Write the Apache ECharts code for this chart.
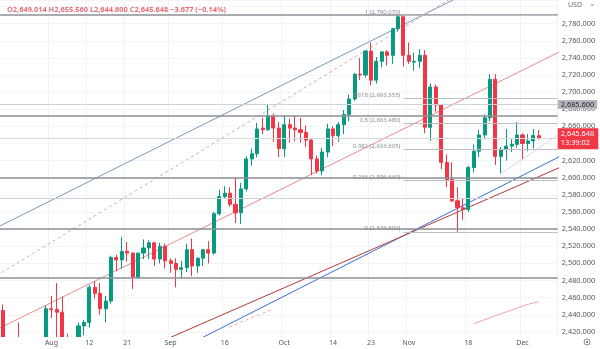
<!DOCTYPE html>
<html>
<head>
<meta charset="utf-8">
<script src="https://cdn.jsdelivr.net/npm/echarts@6/dist/echarts.min.js"></script>
<style>
  html, body { margin: 0; padding: 0; background: #ffffff; }
  #chart { width: 600px; height: 349px; }
</style>
</head>
<body>
<div id="chart"></div>
<script>
// Daily GOLD candles, 19 Jul - 5 Dec 2024
const dates = [
  '2024-07-19','2024-07-22','2024-07-23','2024-07-24','2024-07-25','2024-07-26','2024-07-29','2024-07-30','2024-07-31',
  '2024-08-01','2024-08-02','2024-08-05','2024-08-06','2024-08-07','2024-08-08','2024-08-09','2024-08-12','2024-08-13',
  '2024-08-14','2024-08-15','2024-08-16','2024-08-19','2024-08-20','2024-08-21','2024-08-22','2024-08-23','2024-08-26',
  '2024-08-27','2024-08-28','2024-08-29','2024-08-30','2024-09-02','2024-09-03','2024-09-04','2024-09-05','2024-09-06',
  '2024-09-09','2024-09-10','2024-09-11','2024-09-12','2024-09-13','2024-09-16','2024-09-17','2024-09-18','2024-09-19',
  '2024-09-20','2024-09-23','2024-09-24','2024-09-25','2024-09-26','2024-09-27','2024-09-30','2024-10-01','2024-10-02',
  '2024-10-03','2024-10-04','2024-10-07','2024-10-08','2024-10-09','2024-10-10','2024-10-11','2024-10-14','2024-10-15',
  '2024-10-16','2024-10-17','2024-10-18','2024-10-21','2024-10-22','2024-10-23','2024-10-24','2024-10-25','2024-10-28',
  '2024-10-29','2024-10-30','2024-10-31','2024-11-01','2024-11-04','2024-11-05','2024-11-06','2024-11-07','2024-11-08',
  '2024-11-11','2024-11-12','2024-11-13','2024-11-14','2024-11-15','2024-11-18','2024-11-19','2024-11-20','2024-11-21',
  '2024-11-22','2024-11-25','2024-11-26','2024-11-27','2024-11-28','2024-11-29','2024-12-02','2024-12-03','2024-12-04',
  '2024-12-05'
];
// empty sessions to the right of the last bar
const futureDates = ['2024-12-06','2024-12-09','2024-12-10'];

const opens = [
  2445,2401,2396,2409,2398,2365,2387,2384,2411,
  2447,2446,2443,2409,2390,2382,2427,2431,2472,
  2465,2447,2456,2507,2504,2514,2512,2484,2512,
  2518,2524,2505,2520,2503,2500,2493,2495,2516,
  2497,2506,2516,2512,2558,2578,2582,2569,2559,
  2587,2622,2628,2658,2656,2672,2658,2634,2662,
  2658,2656,2653,2644,2622,2608,2630,2657,2649,
  2662,2674,2692,2721,2720,2748,2714,2736,2747,
  2743,2774,2788,2743,2735,2736,2743,2659,2706,
  2685,2618,2598,2573,2565,2563,2612,2631,2650,
  2670,2715,2625,2633,2637,2639,2650,2640,2643,
  2649.014
];
const highs = [
  2452,2412,2412,2431,2399,2390,2397,2413,2451,
  2462,2477,2461,2418,2406,2431,2434,2475,2479,
  2477,2462,2509,2510,2531,2525,2513,2512,2528,
  2527,2525,2524,2523,2506,2506,2503,2523,2529,
  2507,2517,2526,2560,2586,2590,2589,2600,2594,
  2625,2634,2664,2670,2685.6,2675,2665,2673,2669,
  2672,2670,2661,2645,2626,2635,2663,2660,2665,
  2679,2697,2722,2740,2749,2758,2741,2748,2749,
  2775,2790,2790.07,2758,2746,2750,2749,2710,2709,
  2686,2627,2618,2589,2576,2614,2639,2656,2674,
  2721,2721,2636,2657,2645,2665,2652,2651,2657,
  2655.56
];
const lows = [
  2393,2385,2390,2401,2353,2364,2375,2376,2405,
  2436,2410,2364,2381,2380,2377,2416,2425,2459,
  2440,2431,2453,2491,2494,2502,2470,2482,2505,
  2505,2497,2500,2494,2489,2472,2483,2490,2485,
  2489,2497,2500,2510,2556,2576,2566,2547,2546,
  2584,2614,2624,2651,2655,2642,2624,2624,2641,
  2643,2641,2636,2603,2605,2603,2624,2637,2642,
  2651,2666,2690,2714,2717,2708,2710,2729,2731,
  2733,2771,2730,2733,2725,2728,2652,2643,2677,
  2610,2589,2572,2536.89,2551,2560,2606,2624,2645,
  2666,2615,2605,2620,2630,2635,2622,2631,2634,
  2644.6
];
const closes = [
  2400,2396,2409,2398,2364,2387,2384,2410,2447,
  2446,2443,2409,2390,2382,2427,2431,2472,2465,
  2447,2456,2507,2504,2514,2512,2484,2512,2518,
  2524,2505,2520,2503,2500,2493,2495,2516,2497,
  2506,2516,2512,2558,2578,2582,2569,2559,2587,
  2622,2628,2657,2656,2672,2658,2634,2662,2658,
  2656,2653,2644,2622,2608,2630,2657,2649,2662,
  2674,2692,2721,2720,2748,2714,2736,2747,2743,
  2774,2788,2743,2736,2736,2743,2659,2706,2685,
  2618,2598,2573,2565,2563,2612,2631,2650,2670,
  2715,2625,2633,2637,2639,2650,2640,2643,2649.325,
  2645.648
];

// 200-day simple moving average (only the part inside the price range)
const sma200 = {
  87: 2429.6, 88: 2432.0, 89: 2434.2, 90: 2436.6, 91: 2438.9, 92: 2441.1, 93: 2443.4,
  94: 2445.5, 95: 2447.7, 96: 2450.0, 97: 2452.1, 98: 2453.8, 99: 2454.978
};

// time-scale labels
const tickDates = ['2024-08-01','2024-08-12','2024-08-21','2024-09-02','2024-09-16','2024-10-01',
                   '2024-10-14','2024-10-23','2024-11-01','2024-11-18','2024-12-02'];
const tickTexts = ['Aug','12','21','Sep','16','Oct','14','23','Nov','18','Dec'];

// Fibonacci retracement from the 31 Oct high to the 14 Nov low
const fibRatios = [1, 0.618, 0.5, 0.382, 0.236, 0];
const fibPrices = [2790.070, 2693.355, 2663.480, 2633.605, 2596.640, 2536.890];
const fibStartBar = 74;

// horizontal support / resistance levels
const strongLevels = [2790.07, 2672, 2600, 2540, 2483];
const lightLevels = [2685.6, 2576];
const lastPrice = 2645.648;
const countdown = '13:39:02';

// trend lines, as [bar index, price] anchor pairs
const upperBlue  = [[-4, 2532.7], [88, 2822.9]];
const upperRed   = [[-4, 2413.7], [103, 2747.5]];
const midDashed  = [[-4, 2474.5], [84, 2814.1]];
const lowerBlue  = [[34, 2404.1], [103, 2625.2]];
const lowerRed   = [[28, 2405.3], [103, 2612.3]];
const recentLows = [[92, 2605.0], [103, 2651.5]];
const lowDashed  = [[41.8, 2425.6], [49.9, 2446.6]];

const UP = '#089981', DOWN = '#f23645';
const FONT = '"Noto Sans", "Liberation Sans", sans-serif';
const fmt = (v, d) => v.toLocaleString('en-US', { minimumFractionDigits: d, maximumFractionDigits: d });

const allDates = dates.concat(futureDates);
const nBars = allDates.length;
const candles = dates.map((d, i) => [opens[i], closes[i], lows[i], highs[i]]);
const smaData = allDates.map((d, i) => (sma200[i] !== undefined ? sma200[i] : '-'));
const isTick = (idx, val) => tickDates.indexOf(val) >= 0;

const prevClose = closes[closes.length - 2];
const last = { o: opens[opens.length - 1], h: highs[highs.length - 1], l: lows[lows.length - 1], c: closes[closes.length - 1] };
const chg = last.c - prevClose;
const sign = (x) => (x < 0 ? '\u2212' : '+');

function trend(name, pts, color, width, type) {
  return {
    name, type: 'line', xAxisIndex: 2, yAxisIndex: 0, data: pts, symbol: 'none', silent: true,
    lineStyle: { color, width, type: type || 'solid' }, z: 3, animation: false
  };
}

const chart = echarts.init(document.getElementById('chart'), null, { renderer: 'canvas' });

const option = {
  animation: false,
  backgroundColor: '#ffffff',
  textStyle: { fontFamily: FONT },
  grid: { left: -1.6, right: 42.3, top: 0, bottom: 0, containLabel: false },
  title: {
    left: 2, top: 1,
    text: '{k|O}{v|' + fmt(last.o, 3) + '} {k|H}{v|' + fmt(last.h, 3) + '} {k|L}{v|' + fmt(last.l, 3) +
          '} {k|C}{v|' + fmt(last.c, 3) + '} {v|' + sign(chg) + fmt(Math.abs(chg), 3) +
          ' (' + sign(chg) + fmt(Math.abs(chg / prevClose * 100), 2) + '%)}',
    textStyle: {
      fontSize: 7.4, fontFamily: FONT,
      rich: { k: { color: '#c0868c', fontSize: 7.4, fontFamily: FONT }, v: { color: '#ec6b74', fontSize: 7.4, fontFamily: FONT } }
    }
  },
  xAxis: [
    { // candles + vertical grid
      type: 'category', data: allDates, boundaryGap: true, z: 0,
      axisLine: { show: false }, axisTick: { show: false }, axisLabel: { show: false },
      splitLine: { show: true, interval: isTick, lineStyle: { color: '#f1f2f5', width: 1 } }
    },
    { // time-scale labels drawn over the bottom strip
      type: 'category', data: allDates, boundaryGap: true, position: 'bottom', z: 60,
      axisLine: { show: false }, axisTick: { show: false }, splitLine: { show: false },
      axisLabel: {
        inside: true, margin: 2.5, interval: isTick, color: '#555862', fontSize: 7, fontFamily: FONT,
        formatter: (val) => tickTexts[tickDates.indexOf(val)]
      }
    },
    { // bar-index axis for drawings
      type: 'value', min: -0.5, max: nBars - 0.5, show: false
    }
  ],
  yAxis: {
    type: 'value', position: 'right', min: 2400, max: 2807.6, interval: 20, scale: true, z: 1,
    axisLine: { show: false }, axisTick: { show: false },
    axisLabel: { margin: 4, color: '#555862', fontSize: 7.4, fontFamily: FONT, showMinLabel: false, showMaxLabel: false,
                 formatter: (v) => (v > 2400 && v < 2800 ? fmt(v, 3) : '') },
    splitLine: { show: true, lineStyle: { color: '#f3f4f7', width: 1 } }
  },
  graphic: {
    elements: [
      { type: 'rect', z: 50, silent: true, shape: { x: 0, y: 337, width: 558, height: 12 }, style: { fill: '#ffffff' } },
      { type: 'text', z: 70, right: 18, top: 1, style: { text: 'USD', fill: '#6a6d78', fontSize: 7, fontFamily: FONT } },
      { type: 'text', z: 70, right: 4, top: 0, style: { text: '\u2304', fill: '#8a8d96', fontSize: 8, fontFamily: FONT } },
      { type: 'circle', z: 70, shape: { cx: 587, cy: 342, r: 3 }, style: { fill: 'none', stroke: '#6a6d78', lineWidth: 0.8 } },
      { type: 'circle', z: 70, shape: { cx: 587, cy: 342, r: 1 }, style: { fill: '#6a6d78' } }
    ]
  },
  series: [
    {
      name: 'GOLD', type: 'candlestick', xAxisIndex: 0, yAxisIndex: 0, data: candles, barWidth: '66%', z: 4,
      itemStyle: { color: UP, color0: DOWN, borderColor: UP, borderColor0: DOWN, borderWidth: 1 },
      markLine: {
        silent: true, symbol: ['none', 'none'], animation: false,
        label: { show: false },
        data: strongLevels.map(v => ({ yAxis: v, lineStyle: { color: '#8d8f96', width: 1.6, type: 'solid' } }))
          .concat(lightLevels.map((v, i) => ({
            yAxis: v, lineStyle: { color: '#cfd1d6', width: 1, type: 'solid' },
            label: i === 0 ? {
              show: true, position: 'end', distance: 0, formatter: fmt(v, 3), color: '#1f2128',
              backgroundColor: '#b4b6bd', padding: [1, 3, 1, 3], fontSize: 7.4, fontFamily: FONT
            } : { show: false }
          })))
          .concat([
            { yAxis: lastPrice, lineStyle: { color: '#d6d8dd', width: 1, type: 'solid' },
              label: { show: true, position: 'end', distance: 0, formatter: fmt(lastPrice, 3) + '\n' + countdown,
                       color: '#ffffff', backgroundColor: DOWN, padding: [2, 4, 1, 3], lineHeight: 9,
                       fontSize: 7.4, fontFamily: FONT } },
            { yAxis: lastPrice, lineStyle: { opacity: 0 },
              label: { show: true, position: 'end', distance: -19, formatter: 'GOLD',
                       color: '#ffffff', backgroundColor: DOWN, padding: [1, 2, 1, 2],
                       fontSize: 6, fontFamily: FONT } }
          ])
      }
    },
    {
      name: 'MA 200', type: 'line', xAxisIndex: 0, yAxisIndex: 0, data: smaData, symbol: 'none', silent: true, z: 3,
      lineStyle: { color: '#f4a3a6', width: 1 },
      markLine: {
        silent: true, symbol: ['none', 'none'],
        data: [{ yAxis: sma200[99], lineStyle: { opacity: 0 },
                 label: { show: true, position: 'end', distance: 0, formatter: fmt(sma200[99], 3),
                          color: '#ffffff', backgroundColor: DOWN, padding: [1, 4, 1, 3], fontSize: 7.4, fontFamily: FONT } }]
      }
    },
    trend('upper blue', upperBlue, '#5f8fc4', 0.9),
    trend('upper red', upperRed, '#e57f7f', 0.9),
    trend('mid dashed', midDashed, '#cf9ea6', 0.9, [3, 3]),
    trend('lower blue', lowerBlue, '#3c6fd6', 1),
    trend('lower red', lowerRed, '#b53a3a', 1),
    trend('recent lows', recentLows, '#d3d5da', 0.9),
    trend('low dashed', lowDashed, '#d9a3aa', 0.9, [3, 3]),
    {
      name: 'fib', type: 'line', xAxisIndex: 2, yAxisIndex: 0, data: [], z: 3,
      markLine: {
        silent: true, symbol: ['none', 'none'], animation: false,
        data: fibPrices.map((p, i) => [
          { coord: [fibStartBar, p], lineStyle: { color: '#bdbfc5', width: 1, type: 'solid' },
            label: { show: true, position: 'start', distance: 3, offset: [0, -3],
                     formatter: fibRatios[i] + ' (' + fmt(p, 3) + ')', color: '#8a8d96', fontSize: 6, fontFamily: FONT } },
          { coord: [nBars - 0.5, p] }
        ])
      }
    }
  ]
};

chart.setOption(option);
</script>
</body>
</html>
